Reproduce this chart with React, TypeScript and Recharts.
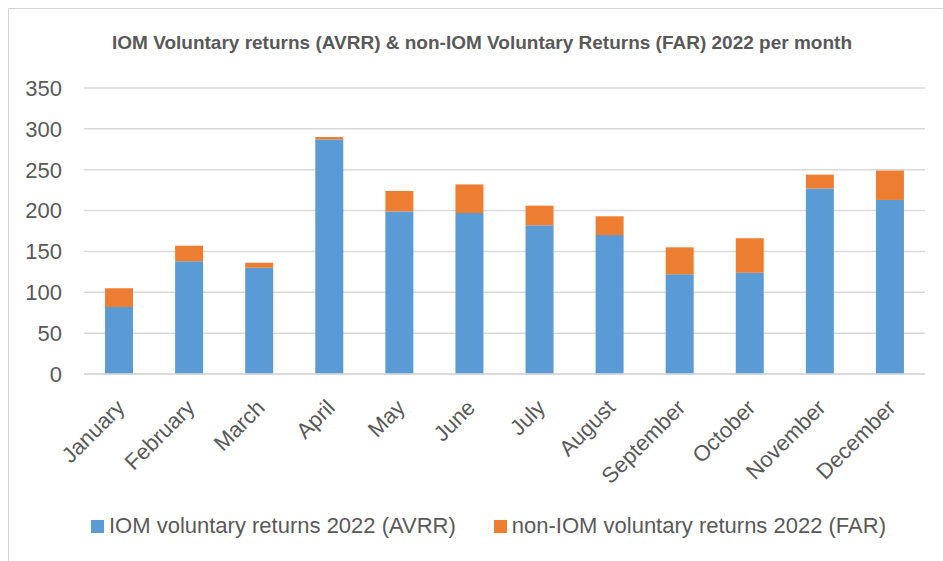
import { BarChart, Bar, XAxis, YAxis, CartesianGrid, Legend } from "recharts";

const months = [
  "January", "February", "March", "April", "May", "June",
  "July", "August", "September", "October", "November", "December",
];
const avrr = [82, 138, 130, 287, 199, 197, 182, 170, 122, 124, 227, 213];
const far = [23, 19, 6, 3, 25, 35, 24, 23, 33, 42, 17, 36];
const yTicks = [0, 50, 100, 150, 200, 250, 300, 350];

const data = months.map((m, i) => ({ month: m, avrr: avrr[i], far: far[i] }));

const FONT = "'Liberation Sans', Arial, sans-serif";
const GREY = "#595959";

const MonthTick = ({ x, y, payload }: any) => (
  <g transform={`translate(${x + 7},${y + 27})`}>
    <text transform="rotate(-45)" textAnchor="end" fill={GREY} fontSize={22} fontFamily={FONT}>
      {payload.value}
    </text>
  </g>
);

const LegendBox = ({ payload }: any) => (
  <div style={{ display: "flex", justifyContent: "center", alignItems: "center", fontFamily: FONT, fontSize: 22, color: GREY }}>
    {payload.map((p: any, i: number) => (
      <div key={p.value} style={{ display: "flex", alignItems: "center", marginLeft: i ? 38 : 0 }}>
        <span style={{ width: 13, height: 13, background: p.color, marginRight: 5, display: "inline-block" }} />
        <span>{p.value}</span>
      </div>
    ))}
  </div>
);

export default function App() {
  return (
    <div style={{ position: "absolute", left: 0, top: 0, width: 943, height: 561, background: "#fff", overflow: "hidden" }}>
      <div style={{ position: "absolute", left: 8, top: 8, width: 960, height: 600, borderTop: "1px solid #d4d4d4", borderLeft: "1px solid #d4d4d4" }} />
      <div style={{ position: "absolute", left: 20, top: 32, width: 924, textAlign: "center", fontFamily: FONT, fontWeight: "bold", fontSize: 19, color: GREY }}>
        IOM Voluntary returns (AVRR) &amp; non-IOM Voluntary Returns (FAR) 2022 per month
      </div>
      <BarChart width={943} height={561} data={data} margin={{ top: 88, right: 18, bottom: 67, left: 0 }} barCategoryGap="30%">
        <CartesianGrid vertical={false} stroke="#d9d9d9" strokeWidth={1.5} />
        <XAxis dataKey="month" height={120} interval={0} tickLine={false} axisLine={{ stroke: "#d9d9d9", strokeWidth: 1.5 }} tick={<MonthTick />} />
        <YAxis width={84} domain={[0, 350]} ticks={yTicks} tickLine={false} axisLine={false} tickMargin={16} tick={{ fill: GREY, fontSize: 22, fontFamily: FONT }} />
        <Legend verticalAlign="middle" align="center" content={<LegendBox />} wrapperStyle={{ top: 513, left: 17, width: 943 }} />
        <Bar dataKey="avrr" name="IOM voluntary returns 2022 (AVRR)" stackId="a" fill="#5B9BD5" isAnimationActive={false} />
        <Bar dataKey="far" name="non-IOM voluntary returns 2022 (FAR)" stackId="a" fill="#ED7D31" isAnimationActive={false} />
      </BarChart>
    </div>
  );
}
